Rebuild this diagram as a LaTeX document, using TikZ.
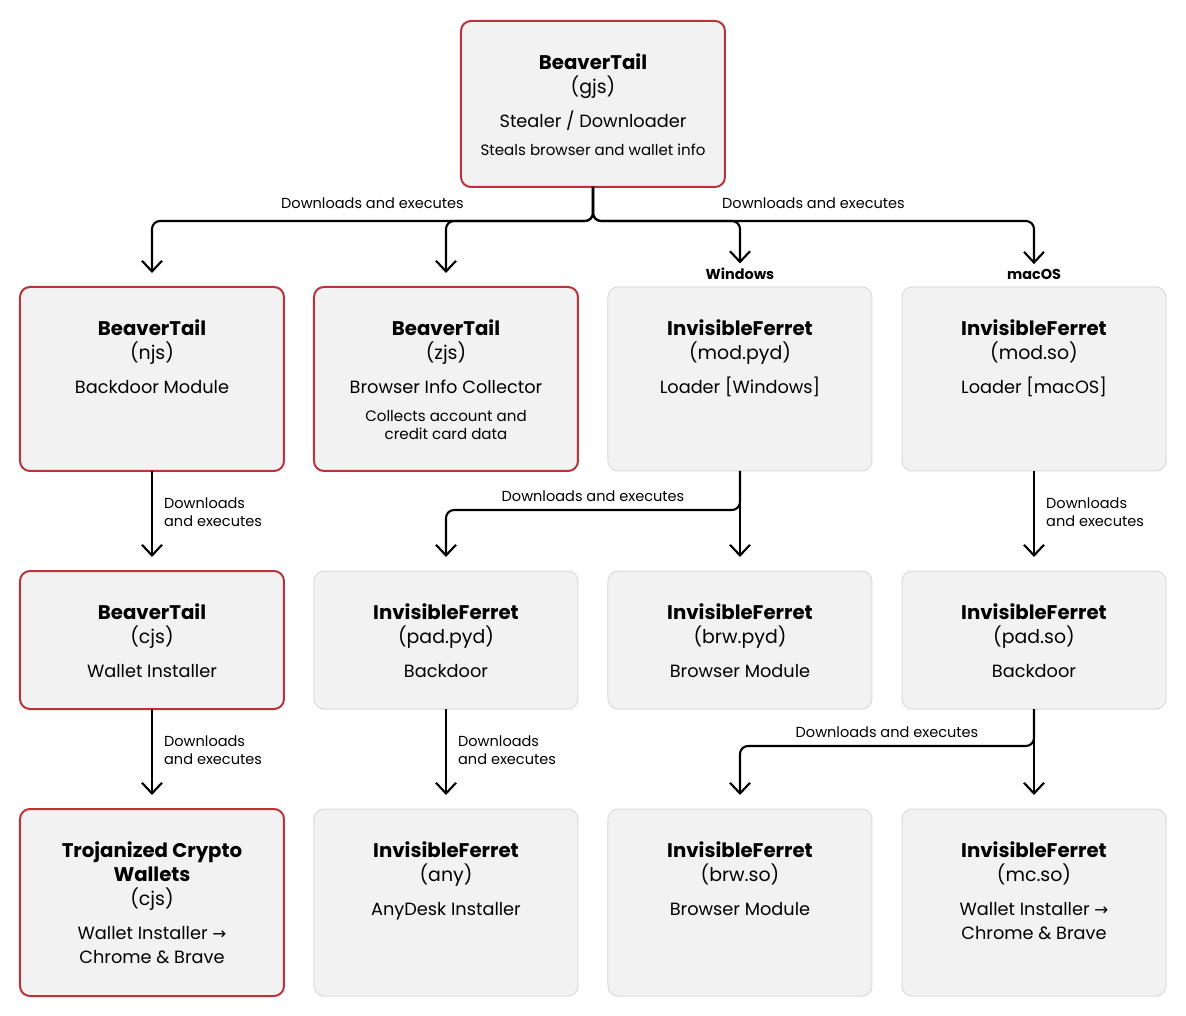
\documentclass[tikz,border=0pt]{standalone}
\usepackage{fontspec}
\setmainfont{Poppins}
\newfontfamily\arrowfont{DejaVu Sans}
\usetikzlibrary{arrows.meta}
\definecolor{malred}{RGB}{184,52,58}
\definecolor{boxfill}{RGB}{242,242,242}
\definecolor{boxline}{RGB}{218,218,218}
\begin{document}
\begin{tikzpicture}
      \newcommand{\boxwidth}[0]{198pt}
      \newcommand{\colspacing}[0]{22.5pt}
      \newcommand{\rowspacing}[0]{75pt}
      \newcommand{\textpad}[0]{24pt}
      \newcommand{\tipgap}[0]{10.5pt}
      \newcommand{\namefont}[0]{\fontsize{14.8}{18}\selectfont\bfseries}
      \newcommand{\filefont}[0]{\fontsize{14.2}{18}\selectfont}
      \newcommand{\rolefont}[0]{\fontsize{13.3}{18}\selectfont}
      \newcommand{\notefont}[0]{\fontsize{11.3}{18}\selectfont}
      \newcommand{\rarrow}[0]{{\arrowfont\fontsize{12.5}{18}\selectfont →}}
      
      \coordinate (origo) at (0,0);
      \useasboundingbox (-444.75pt,15.75pt) rectangle (444.75pt,-746.25pt);
      
      \tikzstyle{plainbox}=[
        rectangle,
        rounded corners=7.5pt,
        fill=boxfill,
        draw=boxline,
        line width=0.75pt,
        outer sep=0pt,
        minimum width=\boxwidth,
        minimum height=138pt,
      ]
      \tikzstyle{malbox} = [
        plainbox,
        draw=malred,
        line width=1.5pt,
      ]
      \tikzstyle{txt} = [
        anchor=north,
        align=center,
        inner sep=0pt,
        font=\fontsize{12}{18}\selectfont,
      ]
      \tikzstyle{lbl} = [
        align=left,
        font=\fontsize{10.9}{13.5}\selectfont,
      ]
      \tikzstyle{oslbl} = [
        font=\fontsize{10.8}{12}\selectfont\bfseries,
      ]
      \tikzstyle{edge} = [
        line width=1.6pt,
        -{Straight Barb[length=8pt,width=15pt]},
        rounded corners=6pt,
        shorten >=\tipgap,
      ]
      
      % top
      \node[malbox,anchor=north,minimum height=124.5pt] (gjs) at (origo) {};
      \node[txt] (gjsText) at ([yshift=-\textpad] gjs.north)
        {{\namefont BeaverTail}\\{\filefont (gjs)}\\[8pt]{\rolefont Stealer / Downloader}\\[3pt]{\notefont Steals browser and wallet info}};
      
      % first row
      {
        \node[malbox,anchor=north east] (zjs)
          at ([xshift=-0.5*\colspacing, yshift=-\rowspacing] gjs.south) {};
        \node[malbox,anchor=east] (njs) at ([xshift=-\colspacing] zjs.west) {};
        \node[plainbox,anchor=north west] (modpyd)
          at ([xshift=0.5*\colspacing, yshift=-\rowspacing] gjs.south) {};
        \node[plainbox,anchor=west] (modso) at ([xshift=\colspacing] modpyd.east) {};
        
        \node[txt] (njsText) at ([yshift=-\textpad] njs.north)
          {{\namefont BeaverTail}\\{\filefont (njs)}\\[8pt]{\rolefont Backdoor Module}};
        \node[txt] (zjsText) at ([yshift=-\textpad] zjs.north)
          {{\namefont BeaverTail}\\{\filefont (zjs)}\\[8pt]{\rolefont Browser Info Collector}\\[3pt]{\notefont Collects account and}\\[-4.5pt]{\notefont credit card data}};
        \node[txt] (modpydText) at ([yshift=-\textpad] modpyd.north)
          {{\namefont InvisibleFerret}\\{\filefont (mod.pyd)}\\[8pt]{\rolefont Loader [Windows]}};
        \node[txt] (modsoText) at ([yshift=-\textpad] modso.north)
          {{\namefont InvisibleFerret}\\{\filefont (mod.so)}\\[8pt]{\rolefont Loader [macOS]}};
        
        \node[oslbl] (winLabel) at ([yshift=9.75pt] modpyd.north) {Windows};
        \node[oslbl] (macLabel) at ([yshift=9.75pt] modso.north) {macOS};
        
        \draw[edge] (gjs.south) -- ++(0,-25.5pt) -|
          node[lbl,anchor=south,pos=0.25,yshift=5pt] {Downloads and executes} (njs.north);
        \draw[edge] (gjs.south) -- ++(0,-25.5pt) -| (zjs.north);
        \draw[edge,shorten >=0pt] (gjs.south) -- ++(0,-25.5pt) -| (winLabel.north);
        \draw[edge,shorten >=0pt] (gjs.south) -- ++(0,-25.5pt) -|
          node[lbl,anchor=south,pos=0.25,yshift=5pt] {Downloads and executes} (macLabel.north);
      }
      
      % second row
      {
        \node[malbox,anchor=north,minimum height=103.5pt] (cjs)
          at ([yshift=-\rowspacing] njs.south) {};
        \node[plainbox,anchor=north,minimum height=103.5pt] (padpyd)
          at ([yshift=-\rowspacing] zjs.south) {};
        \node[plainbox,anchor=north,minimum height=103.5pt] (brwpyd)
          at ([yshift=-\rowspacing] modpyd.south) {};
        \node[plainbox,anchor=north,minimum height=103.5pt] (padso)
          at ([yshift=-\rowspacing] modso.south) {};
        
        \node[txt] (cjsText) at ([yshift=-\textpad] cjs.north)
          {{\namefont BeaverTail}\\{\filefont (cjs)}\\[8pt]{\rolefont Wallet Installer}};
        \node[txt] (padpydText) at ([yshift=-\textpad] padpyd.north)
          {{\namefont InvisibleFerret}\\{\filefont (pad.pyd)}\\[8pt]{\rolefont Backdoor}};
        \node[txt] (brwpydText) at ([yshift=-\textpad] brwpyd.north)
          {{\namefont InvisibleFerret}\\{\filefont (brw.pyd)}\\[8pt]{\rolefont Browser Module}};
        \node[txt] (padsoText) at ([yshift=-\textpad] padso.north)
          {{\namefont InvisibleFerret}\\{\filefont (pad.so)}\\[8pt]{\rolefont Backdoor}};
        
        \draw[edge] (njs) -- node[lbl,right,xshift=5pt,yshift=6.5pt] {Downloads\\and executes} (cjs);
        \draw[edge] (modpyd) -- (brwpyd);
        \draw[edge] (modpyd.south) -- ++(0,-29.25pt) -|
          node[lbl,anchor=south,pos=0.25,yshift=2pt] {Downloads and executes} (padpyd.north);
        \draw[edge] (modso) -- node[lbl,right,xshift=5pt,yshift=6.5pt] {Downloads\\and executes} (padso);
      }
      
      % third row
      {
        \node[malbox,anchor=north,minimum height=140.25pt] (trojan)
          at ([yshift=-\rowspacing] cjs.south) {};
        \node[plainbox,anchor=north,minimum height=140.25pt] (anydesk)
          at ([yshift=-\rowspacing] padpyd.south) {};
        \node[plainbox,anchor=north,minimum height=140.25pt] (brwso)
          at ([yshift=-\rowspacing] brwpyd.south) {};
        \node[plainbox,anchor=north,minimum height=140.25pt] (mcso)
          at ([yshift=-\rowspacing] padso.south) {};
        
        \node[txt] (trojanText) at ([yshift=-\textpad] trojan.north)
          {{\namefont Trojanized Crypto}\\{\namefont Wallets}\\{\filefont (cjs)}\\[8pt]{\rolefont Wallet Installer \rarrow}\\{\rolefont Chrome \& Brave}};
        \node[txt] (anydeskText) at ([yshift=-\textpad] anydesk.north)
          {{\namefont InvisibleFerret}\\{\filefont (any)}\\[8pt]{\rolefont AnyDesk Installer}};
        \node[txt] (brwsoText) at ([yshift=-\textpad] brwso.north)
          {{\namefont InvisibleFerret}\\{\filefont (brw.so)}\\[8pt]{\rolefont Browser Module}};
        \node[txt] (mcsoText) at ([yshift=-\textpad] mcso.north)
          {{\namefont InvisibleFerret}\\{\filefont (mc.so)}\\[8pt]{\rolefont Wallet Installer \rarrow}\\{\rolefont Chrome \& Brave}};
        
        \draw[edge] (cjs) -- node[lbl,right,xshift=5pt,yshift=6.5pt] {Downloads\\and executes} (trojan);
        \draw[edge] (padpyd) -- node[lbl,right,xshift=5pt,yshift=6.5pt] {Downloads\\and executes} (anydesk);
        \draw[edge] (padso) -- (mcso);
        \draw[edge] (padso.south) -- ++(0,-27.75pt) -|
          node[lbl,anchor=south,pos=0.25,yshift=2pt] {Downloads and executes} (brwso.north);
      }
\end{tikzpicture}
\end{document}
